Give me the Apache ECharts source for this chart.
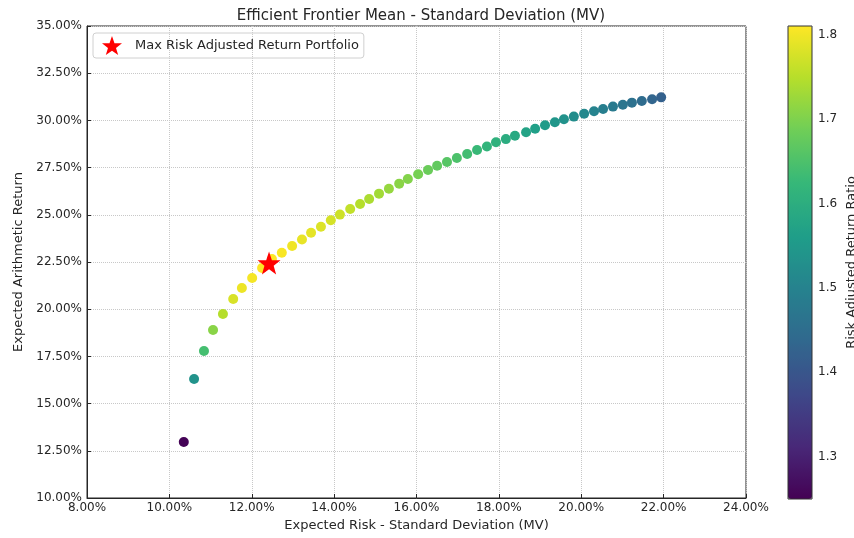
<!DOCTYPE html>
<html>
<head>
<meta charset="utf-8">
<script src="https://cdn.jsdelivr.net/npm/echarts@6/dist/echarts.min.js"></script>
<style>
  html, body { margin: 0; padding: 0; background: #fff; }
  #main { width: 854px; height: 538px; }
</style>
</head>
<body>
<div id="main"></div>
<script>
// frontier points (percent)
var risk = [10.35, 10.60, 10.84, 11.06, 11.30, 11.55, 11.76, 12.01, 12.25, 12.49,
            12.73, 12.98, 13.22, 13.44, 13.68, 13.92, 14.14, 14.39, 14.63, 14.85,
            15.09, 15.33, 15.58, 15.79, 16.04, 16.28, 16.50, 16.74, 16.98, 17.23,
            17.47, 17.71, 17.93, 18.17, 18.39, 18.66, 18.88, 19.12, 19.36, 19.58,
            19.82, 20.07, 20.31, 20.53, 20.77, 21.01, 21.23, 21.47, 21.72, 21.94];
var ret = [12.97, 16.30, 17.79, 18.90, 19.75, 20.54, 21.12, 21.65, 22.18, 22.66,
           22.99, 23.35, 23.69, 24.05, 24.37, 24.71, 25.01, 25.31, 25.57, 25.84,
           26.12, 26.38, 26.65, 26.90, 27.15, 27.37, 27.60, 27.80, 28.01, 28.22,
           28.43, 28.62, 28.84, 29.01, 29.19, 29.37, 29.56, 29.74, 29.90, 30.06,
           30.20, 30.35, 30.48, 30.60, 30.73, 30.83, 30.94, 31.03, 31.12, 31.22];
var maxPoint = [12.42, 22.45];
var cbTicks = [1.3, 1.4, 1.5, 1.6, 1.7, 1.8];
var cbMin = 1.25, cbMax = 1.81;

var viridis = ['#440154', '#482878', '#3e4989', '#31688e', '#26828e',
               '#1f9e89', '#35b779', '#6ece58', '#b5de2b', '#fde725'];
var starPath = 'path://M50,0 L61.8,35.1 L97.6,34.5 L69.1,56.7 L79.4,90.5 L50,70 L20.6,90.5 L30.9,56.7 L2.4,34.5 L38.2,35.1 Z';
var font = 'DejaVu Sans';
var ink = '#262626';

var points = risk.map(function (r, i) { return [r, ret[i], ret[i] / r]; });

var chart = echarts.init(document.getElementById('main'));
chart.setOption({
  animation: false,
  backgroundColor: '#fff',
  textStyle: { fontFamily: font },
  title: {
    text: 'Efficient Frontier Mean - Standard Deviation (MV)',
    left: 416, top: 4, textAlign: 'center',
    textStyle: { fontFamily: font, fontSize: 15, fontWeight: 'normal', color: ink }
  },
  legend: {
    left: 93, top: 33,
    padding: [3, 5, 3, 9],
    borderColor: '#d0d0d0', borderWidth: 1, borderRadius: 3,
    itemWidth: 20, itemHeight: 19,
    textStyle: { fontFamily: font, fontSize: 13, color: ink, padding: [0, 0, 0, 8] },
    data: [{ name: 'Max Risk Adjusted Return Portfolio', icon: starPath }]
  },
  grid: [
    { left: 87, right: 108, top: 26, bottom: 40, show: true, borderColor: ink, borderWidth: 1,
      backgroundColor: 'transparent', outerBoundsMode: 'none' },
    { left: 788, top: 26, width: 24, height: 473, show: true, borderColor: '#333', borderWidth: 1,
      backgroundColor: 'transparent', z: 10, outerBoundsMode: 'none' }
  ],
  xAxis: [
    {
      type: 'value', gridIndex: 0, min: 8, max: 24, interval: 2,
      name: 'Expected Risk - Standard Deviation (MV)', nameLocation: 'middle', nameGap: 21,
      nameTextStyle: { fontFamily: font, fontSize: 13, color: ink },
      axisLine: { lineStyle: { color: ink } },
      axisTick: { show: true, inside: true, length: 4, lineStyle: { color: ink } },
      axisLabel: { fontFamily: font, fontSize: 12, color: ink, margin: 4,
        formatter: function (v) { return v.toFixed(2) + '%'; } },
      splitLine: { show: true, lineStyle: { color: '#c8c8c8', type: 'dotted', width: 1 } }
    },
    { type: 'value', gridIndex: 1, show: false, min: 0, max: 1 }
  ],
  yAxis: [
    {
      type: 'value', gridIndex: 0, min: 10, max: 35, interval: 2.5,
      name: 'Expected Arithmetic Return', nameLocation: 'middle', nameGap: 60,
      nameTextStyle: { fontFamily: font, fontSize: 13, color: ink },
      axisLine: { show: true, lineStyle: { color: ink } },
      axisTick: { show: true, inside: true, length: 4, lineStyle: { color: ink } },
      axisLabel: { fontFamily: font, fontSize: 12, color: ink, margin: 5,
        formatter: function (v) { return v.toFixed(2) + '%'; } },
      splitLine: { show: true, lineStyle: { color: '#c8c8c8', type: 'dotted', width: 1 } }
    },
    {
      type: 'value', gridIndex: 1, position: 'right', min: cbMin, max: cbMax,
      name: 'Risk Adjusted Return Ratio', nameLocation: 'middle', nameGap: 33, nameRotate: 90,
      nameTextStyle: { fontFamily: font, fontSize: 13, color: ink },
      axisLine: { show: false },
      axisTick: { show: true, length: 4, customValues: cbTicks, lineStyle: { color: ink } },
      axisLabel: { fontFamily: font, fontSize: 12, color: ink, margin: 6, customValues: cbTicks,
        formatter: function (v) { return v.toFixed(1); } },
      splitLine: { show: false }
    }
  ],
  visualMap: {
    type: 'continuous',
    seriesIndex: 0, dimension: 2,
    min: cbMin, max: cbMax,
    left: 788, top: 26, padding: 0,
    itemWidth: 24, itemHeight: 473,
    calculable: false, hoverLink: false,
    text: null, showLabel: false,
    inRange: { color: viridis }
  },
  series: [
    {
      name: 'frontier', type: 'scatter', xAxisIndex: 0, yAxisIndex: 0,
      symbolSize: 10, itemStyle: { opacity: 1 }, data: points, z: 2
    },
    {
      name: 'Max Risk Adjusted Return Portfolio', type: 'scatter', xAxisIndex: 0, yAxisIndex: 0,
      symbol: starPath, symbolSize: 23,
      itemStyle: { color: '#ff0000', opacity: 1 },
      data: [maxPoint], z: 5
    }
  ]
});
</script>
</body>
</html>
